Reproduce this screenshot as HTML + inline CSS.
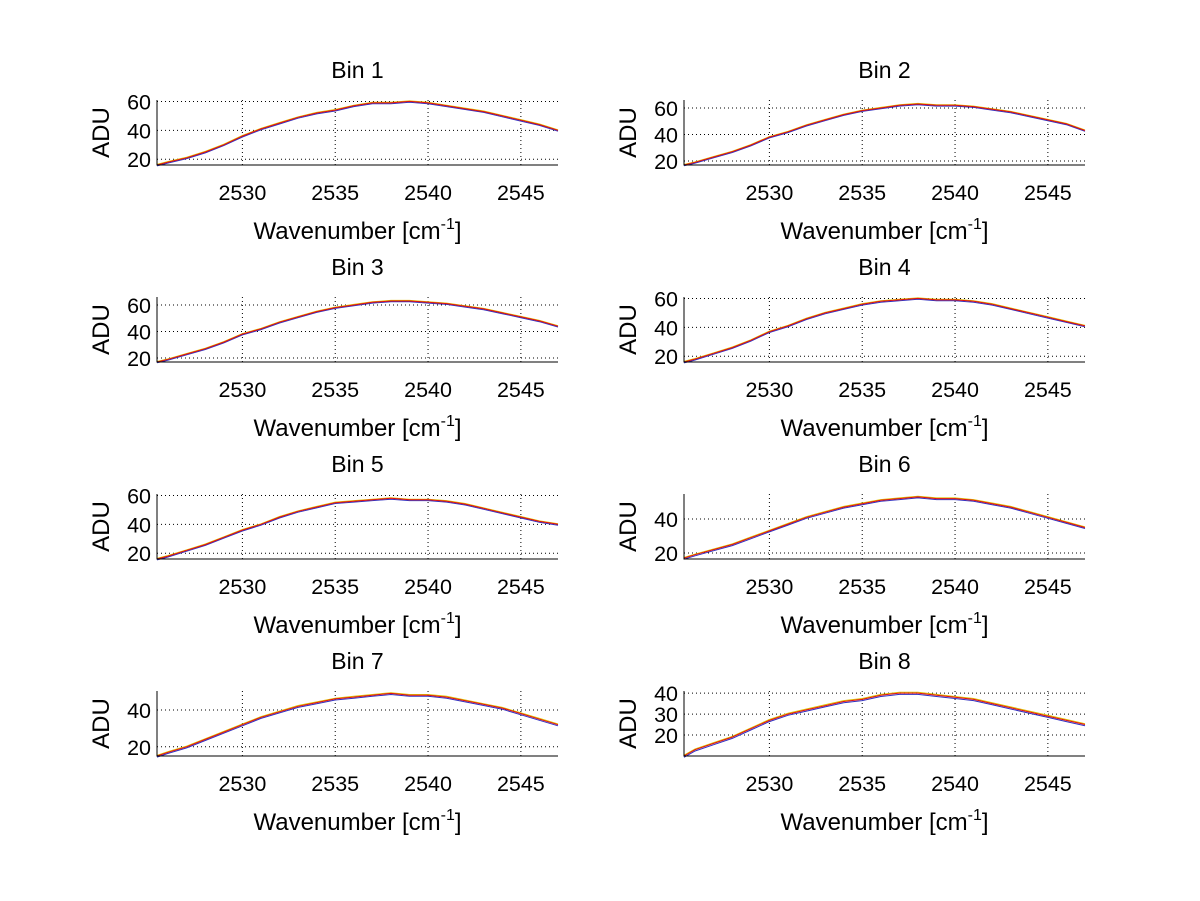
<!DOCTYPE html>
<html><head><meta charset="utf-8"><style>
html,body{margin:0;padding:0;background:#fff;}
svg{display:block;font-family:"Liberation Sans",Arial,sans-serif;}
</style></head><body>
<svg id="fig" width="1200" height="901" viewBox="0 0 1200 901"></svg>
<script>
const wavenumbers=[2525.4,2526,2527,2528,2529,2530,2531,2532,2533,2534,2535,2536,2537,2538,2539,2540,2541,2542,2543,2544,2545,2546,2547];
const bin1=[16,18,21,25,30,36,41,45,49,52,54,57,59,59,60,59,57,55,53,50,47,44,40];
const bin2=[17,19,23,27,32,38,42,47,51,55,58,60,62,63,62,62,61,59,57,54,51,48,43];
const bin3=[17,19,23,27,32,38,42,47,51,55,58,60,62,63,63,62,61,59,57,54,51,48,44];
const bin4=[16,18,22,26,31,37,41,46,50,53,56,58,59,60,59,59,58,56,53,50,47,44,41];
const bin5=[16,18,22,26,31,36,40,45,49,52,55,56,57,58,57,57,56,54,51,48,45,42,40];
const bin6=[17,19,22,25,29,33,37,41,44,47,49,51,52,53,52,52,51,49,47,44,41,38,35];
const bin7=[15,17,20,24,28,32,36,39,42,44,46,47,48,49,48,48,47,45,43,41,38,35,32];
const bin8=[10,13,16,19,23,27,30,32,34,36,37,39,40,40,39,38,37,35,33,31,29,27,25];
const binNames=["Bin 1","Bin 2","Bin 3","Bin 4","Bin 5","Bin 6","Bin 7","Bin 8"];
const yLims=[[16,61],[17,66],[17,66],[16,61],[16,61],[16.5,54.7],[15,50.3],[10,41]];
const yTicks=[[20,40,60],[20,40,60],[20,40,60],[20,40,60],[20,40,60],[20,40],[20,40],[20,30,40]];
const xTicks=[2530,2535,2540,2545];
const xLim=[2525.4,2547];
const series=[bin1,bin2,bin3,bin4,bin5,bin6,bin7,bin8];

const NS="http://www.w3.org/2000/svg";
const svg=document.getElementById('fig');
function mk(tag,attrs,parent){const e=document.createElementNS(NS,tag);for(const k in attrs)e.setAttribute(k,attrs[k]);(parent||svg).appendChild(e);return e;}
const cols=[157,684], W=401, tops=[100,297,494,691], H=65;
series.forEach((data,i)=>{
  const L=cols[i%2], T=tops[Math.floor(i/2)];
  const g=mk('g',{});
  
  
  const [y0,y1]=yLims[i];
  const xs=v=>L+(v-xLim[0])/(xLim[1]-xLim[0])*W;
  const ys=v=>T+H-(v-y0)/(y1-y0)*H;
  xTicks.forEach(t=>{const l=mk('line',{x1:xs(t),x2:xs(t),y1:T,y2:T+H,stroke:'#000','stroke-width':1,'stroke-dasharray':'1,3'},g);
    
    const tk=mk('text',{x:xs(t),y:T+H+35,'font-size':21.5,'text-anchor':'middle'},g);tk.textContent=t;
    });
  yTicks[i].forEach(t=>{const l=mk('line',{x1:L,x2:L+W,y1:ys(t),y2:ys(t),stroke:'#000','stroke-width':1,'stroke-dasharray':'1,3'},g);
    
    const tk=mk('text',{x:L-6,y:ys(t)+8,'font-size':21.5,'text-anchor':'end'},g);tk.textContent=t;
    });
  const pts=(off)=>data.map((v,j)=>xs(wavenumbers[j]).toFixed(1)+','+ys(v+off).toFixed(1)).join(' ');
  const b=mk('polyline',{points:pts(-0.6),fill:'none',stroke:'#3030c0','stroke-width':1},g);
  
  const yl=mk('polyline',{points:pts(0.4),fill:'none',stroke:'#e0c000','stroke-width':1},g);
  
  const r=mk('polyline',{points:pts(0),fill:'none',stroke:'#e01010','stroke-width':1},g);
  
  const ax=mk('path',{d:`M${L},${T} V${T+H} H${L+W}`,fill:'none',stroke:'#000','stroke-width':1},g);
  
  const tt=mk('text',{x:L+W/2,y:T-22,'font-size':23,'text-anchor':'middle'},g);tt.textContent=binNames[i];
  
  const xl=mk('text',{x:L+W/2,y:T+H+74,'font-size':24,'text-anchor':'middle'},g);
  xl.innerHTML='Wavenumber [cm<tspan dy="-10" font-size="16">-1</tspan><tspan dy="10">]</tspan>';
  
  const yt=mk('text',{x:0,y:0,'font-size':24,'text-anchor':'middle',transform:`translate(${L-48},${T+H/2}) rotate(-90)`},g);yt.textContent='ADU';
  
});
</script>
</body></html>
